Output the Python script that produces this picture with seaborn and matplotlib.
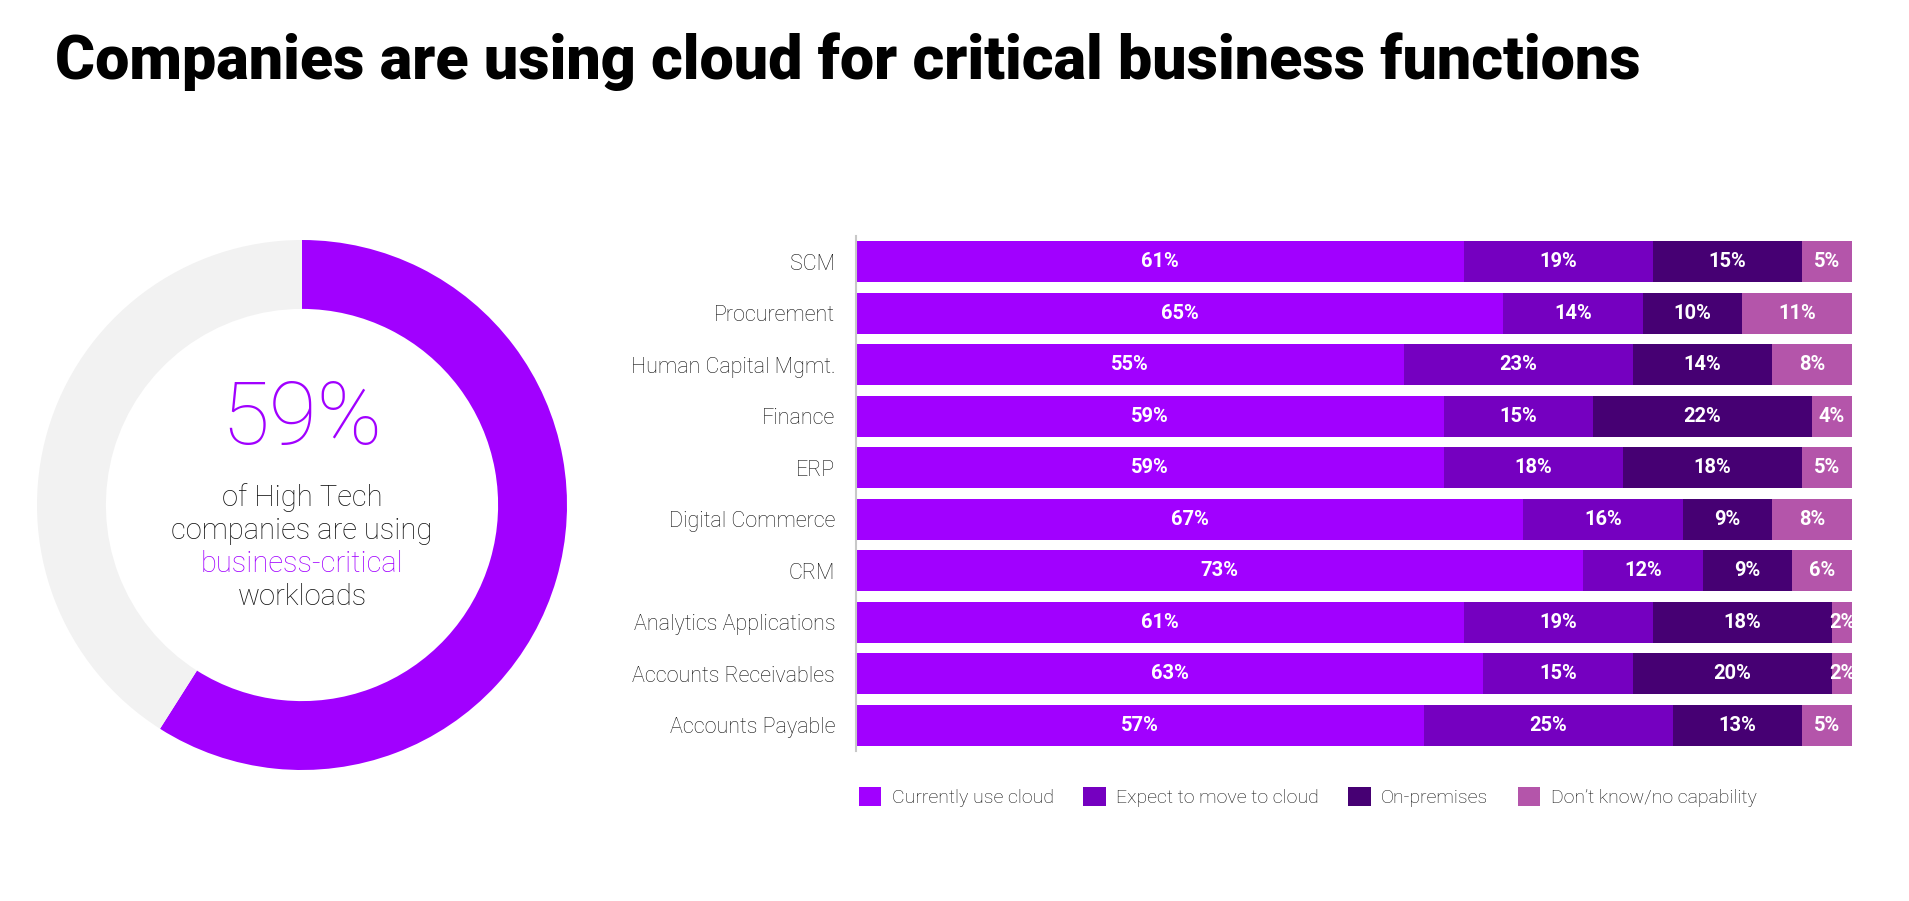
import matplotlib.pyplot as plt
import seaborn as sns
import pandas as pd
from matplotlib.patches import Patch

# Chart data
categories = ['SCM', 'Procurement', 'Human Capital Mgmt.', 'Finance', 'ERP',
              'Digital Commerce', 'CRM', 'Analytics Applications',
              'Accounts Receivables', 'Accounts Payable']
currently_use = [61, 65, 55, 59, 59, 67, 73, 61, 63, 57]
expect_move = [19, 14, 23, 15, 18, 16, 12, 19, 15, 25]
on_premises = [15, 10, 14, 22, 18, 9, 9, 18, 20, 13]
dont_know = [5, 11, 8, 4, 5, 8, 6, 2, 2, 5]
series_names = ['Currently use cloud', 'Expect to move to cloud', 'On-premises',
                'Don\u2019t know/no capability']
donut_share = [59, 41]

colors = ['#A100FF', '#7500C0', '#460073', '#B455AA']
purple = '#A100FF'
light_gray = '#F2F2F2'

sns.set_theme(style='white')
plt.rcParams['font.family'] = ['Roboto', 'DejaVu Sans']

W, H = 1909, 901
fig = plt.figure(figsize=(W / 100, H / 100), dpi=100)
fig.patch.set_facecolor('white')

# --- title, fitted to the reference width
title = fig.text(55 / W, 1 - 79 / H, 'Companies are using cloud for critical business functions',
                 fontsize=46, fontweight='black', color='black', ha='left', va='baseline')
fig.canvas.draw()
tw = title.get_window_extent().width
title.set_fontsize(46 * min(1.0, 1582 / tw))

# --- stacked bars
df = pd.DataFrame({'category': categories,
                   series_names[0]: currently_use,
                   series_names[1]: expect_move,
                   series_names[2]: on_premises,
                   series_names[3]: dont_know})
stack = df[series_names].cumsum(axis=1)
stack['category'] = categories

ax = fig.add_axes([856 / W, 1 - 751 / H, (1852 - 856) / W, (751 - 236) / H])
for name, col in reversed(list(zip(series_names, colors))):
    sns.barplot(data=stack, x=name, y='category', order=categories, orient='h',
                color=col, saturation=1, width=0.8, linewidth=0, ax=ax)

for i, cat in enumerate(categories):
    left = 0
    for name in series_names:
        v = df.loc[i, name]
        ax.text(left + v / 2, i, f'{v}%', ha='center', va='center', color='white',
                fontsize=14.5, fontweight='bold')
        left += v

ax.set_xlim(0, 100)
ax.set_ylim(9.5, -0.5)
ax.set_xlabel('')
ax.set_ylabel('')
ax.set_xticks([])
for s in ['top', 'right', 'bottom']:
    ax.spines[s].set_visible(False)
ax.spines['left'].set_color('#c8c8c8')
ax.spines['left'].set_linewidth(1.5)
ax.tick_params(axis='y', length=0, pad=15, labelsize=15.5, labelcolor='#111111')
for lab in ax.get_yticklabels():
    lab.set_fontweight('light')

# --- legend
handles = [Patch(facecolor=c, edgecolor='none', label=n) for n, c in zip(series_names, colors)]
fig.legend(handles=handles, loc='center left', bbox_to_anchor=(859 / W, 1 - 797 / H),
           ncol=4, frameon=False, handlelength=1.15, handleheight=1.15,
           handletextpad=0.55, columnspacing=1.5, borderpad=0, borderaxespad=0,
           prop={'weight': 'light', 'size': 14}, labelcolor='#111111')

# --- donut
cx, cy, r = 302, 505, 265
dax = fig.add_axes([(cx - r) / W, 1 - (cy + r) / H, 2 * r / W, 2 * r / H])
dax.pie(donut_share, colors=[purple, light_gray], startangle=90, counterclock=False,
        radius=1, wedgeprops=dict(width=0.26, linewidth=0))
dax.set_xlim(-1, 1)
dax.set_ylim(-1, 1)
dax.set_aspect('equal')
dax.axis('off')

fig.text(cx / W, 1 - 420 / H, f'{donut_share[0]}%', ha='center', va='center',
         fontsize=63, fontweight='light', color=purple)
center_lines = [('of High Tech', '#111111', 498), ('companies are using', '#111111', 531),
                ('business-critical', purple, 564), ('workloads', '#111111', 597)]
for txt, col, y in center_lines:
    fig.text(cx / W, 1 - y / H, txt, ha='center', va='center', fontsize=21,
             fontweight='light', color=col)

fig.savefig('out.png', dpi=100, facecolor='white')
